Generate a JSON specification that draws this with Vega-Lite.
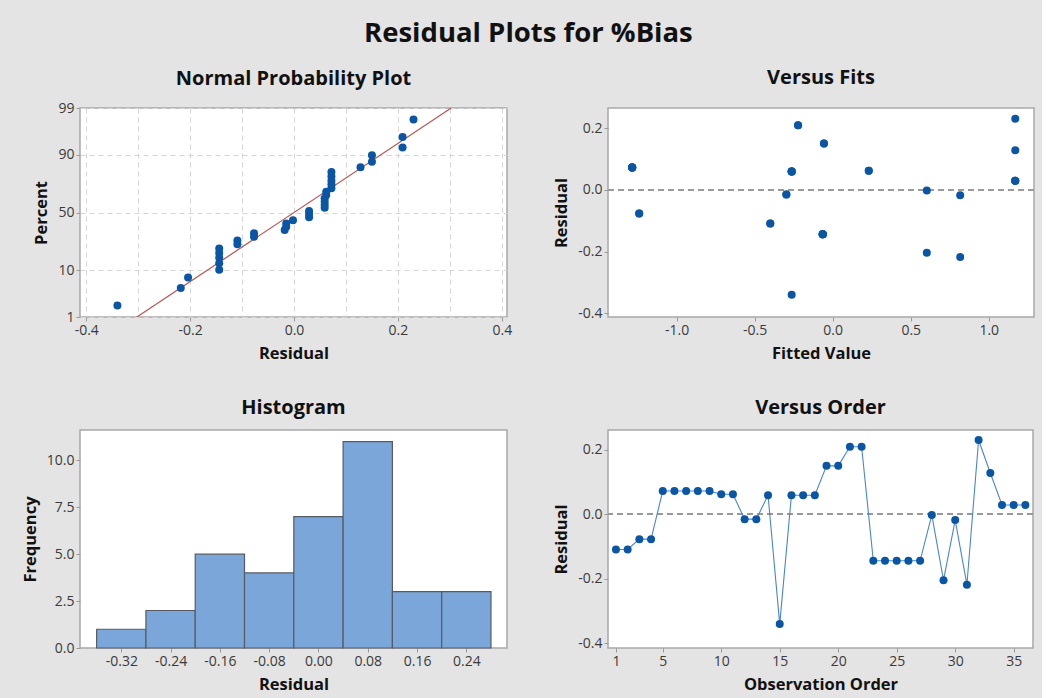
{
  "$schema": "https://vega.github.io/schema/vega-lite/v6.json",
  "background": "#e4e4e4",
  "padding": {"left": 21, "top": 19, "right": 6, "bottom": 6},
  "title": {
    "text": "Residual Plots for %Bias",
    "fontSize": 27.5,
    "fontWeight": "bold",
    "color": "#111111",
    "anchor": "middle",
    "offset": 20
  },
  "datasets": {
    "obs": [
      {"order": 1, "fit": -0.400, "resid": -0.109},
      {"order": 2, "fit": -0.400, "resid": -0.109},
      {"order": 3, "fit": -1.240, "resid": -0.077},
      {"order": 4, "fit": -1.240, "resid": -0.077},
      {"order": 5, "fit": -1.285, "resid": 0.072},
      {"order": 6, "fit": -1.285, "resid": 0.072},
      {"order": 7, "fit": -1.285, "resid": 0.072},
      {"order": 8, "fit": -1.285, "resid": 0.072},
      {"order": 9, "fit": -1.285, "resid": 0.072},
      {"order": 10, "fit": 0.231, "resid": 0.062},
      {"order": 11, "fit": 0.231, "resid": 0.062},
      {"order": 12, "fit": -0.297, "resid": -0.015},
      {"order": 13, "fit": -0.297, "resid": -0.015},
      {"order": 14, "fit": -0.263, "resid": 0.059},
      {"order": 15, "fit": -0.263, "resid": -0.340},
      {"order": 16, "fit": -0.263, "resid": 0.059},
      {"order": 17, "fit": -0.263, "resid": 0.059},
      {"order": 18, "fit": -0.263, "resid": 0.059},
      {"order": 19, "fit": -0.056, "resid": 0.150},
      {"order": 20, "fit": -0.056, "resid": 0.150},
      {"order": 21, "fit": -0.222, "resid": 0.209},
      {"order": 22, "fit": -0.222, "resid": 0.209},
      {"order": 23, "fit": -0.064, "resid": -0.144},
      {"order": 24, "fit": -0.064, "resid": -0.144},
      {"order": 25, "fit": -0.064, "resid": -0.144},
      {"order": 26, "fit": -0.064, "resid": -0.144},
      {"order": 27, "fit": -0.064, "resid": -0.144},
      {"order": 28, "fit": 0.603, "resid": -0.002},
      {"order": 29, "fit": 0.603, "resid": -0.204},
      {"order": 30, "fit": 0.817, "resid": -0.018},
      {"order": 31, "fit": 0.817, "resid": -0.218},
      {"order": 32, "fit": 1.170, "resid": 0.230},
      {"order": 33, "fit": 1.170, "resid": 0.128},
      {"order": 34, "fit": 1.170, "resid": 0.029},
      {"order": 35, "fit": 1.170, "resid": 0.029},
      {"order": 36, "fit": 1.170, "resid": 0.029}
    ],
    "npp": [
      {"resid": -0.340, "score": -2.070},
      {"resid": -0.218, "score": -1.678},
      {"resid": -0.204, "score": -1.445},
      {"resid": -0.144, "score": -1.272},
      {"resid": -0.144, "score": -1.131},
      {"resid": -0.144, "score": -1.009},
      {"resid": -0.144, "score": -0.900},
      {"resid": -0.144, "score": -0.801},
      {"resid": -0.109, "score": -0.709},
      {"resid": -0.109, "score": -0.623},
      {"resid": -0.077, "score": -0.542},
      {"resid": -0.077, "score": -0.464},
      {"resid": -0.018, "score": -0.388},
      {"resid": -0.015, "score": -0.315},
      {"resid": -0.015, "score": -0.243},
      {"resid": -0.002, "score": -0.173},
      {"resid": 0.029, "score": -0.103},
      {"resid": 0.029, "score": -0.034},
      {"resid": 0.029, "score": 0.034},
      {"resid": 0.059, "score": 0.103},
      {"resid": 0.059, "score": 0.173},
      {"resid": 0.059, "score": 0.243},
      {"resid": 0.059, "score": 0.315},
      {"resid": 0.062, "score": 0.388},
      {"resid": 0.062, "score": 0.464},
      {"resid": 0.072, "score": 0.542},
      {"resid": 0.072, "score": 0.623},
      {"resid": 0.072, "score": 0.709},
      {"resid": 0.072, "score": 0.801},
      {"resid": 0.072, "score": 0.900},
      {"resid": 0.128, "score": 1.009},
      {"resid": 0.150, "score": 1.131},
      {"resid": 0.150, "score": 1.272},
      {"resid": 0.209, "score": 1.445},
      {"resid": 0.209, "score": 1.678},
      {"resid": 0.230, "score": 2.070}
    ],
    "nppLine": [
      {"resid": -0.3025, "score": -2.3263},
      {"resid": 0.3025, "score": 2.3263}
    ],
    "hist": [
      {"lo": -0.36, "hi": -0.28, "count": 1},
      {"lo": -0.28, "hi": -0.20, "count": 2},
      {"lo": -0.20, "hi": -0.12, "count": 5},
      {"lo": -0.12, "hi": -0.04, "count": 4},
      {"lo": -0.04, "hi": 0.04, "count": 7},
      {"lo": 0.04, "hi": 0.12, "count": 11},
      {"lo": 0.12, "hi": 0.20, "count": 3},
      {"lo": 0.20, "hi": 0.28, "count": 3}
    ]
  },
  "columns": 2,
  "spacing": {"row": 34, "column": 40},
  "concat": [
    {
      "width": 427,
      "height": 209,
      "title": "Normal Probability Plot",
      "layer": [
        {
          "data": {"name": "nppLine"},
          "mark": {"type": "line", "color": "#B9534E", "strokeWidth": 1.2, "clip": true},
          "encoding": {
            "x": {"field": "resid", "type": "quantitative"},
            "y": {"field": "score", "type": "quantitative"}
          }
        },
        {
          "data": {"name": "npp"},
          "mark": {"type": "point", "filled": true, "size": 64, "opacity": 1, "color": "#0B56A4"},
          "encoding": {
            "x": {
              "field": "resid",
              "type": "quantitative",
              "title": "Residual",
              "scale": {"domain": [-0.412, 0.41], "nice": false, "zero": false},
              "axis": {
                "values": [-0.4, -0.3, -0.2, -0.1, 0, 0.1, 0.2, 0.3, 0.4],
                "grid": true,
                "gridDash": [5, 4],
                "gridColor": "#d6d6d6",
                "labelExpr": "abs(round(datum.value * 10)) % 2 == 0 ? replace(format(datum.value, '.1f'), '\u2212', '-') : ''",
                "tickOpacity": {"condition": {"test": "abs(round(datum.value * 10)) % 2 == 0", "value": 1}, "value": 0}
              }
            },
            "y": {
              "field": "score",
              "type": "quantitative",
              "title": "Percent",
              "scale": {"domain": [-2.3263, 2.3263], "nice": false, "zero": false},
              "axis": {
                "values": [-2.3263, -1.2816, 0, 1.2816, 2.3263],
                "grid": true,
                "gridDash": [5, 4],
                "gridColor": "#d6d6d6",
                "labelExpr": "datum.value < -2 ? '1' : datum.value < -1 ? '10' : datum.value < 1 ? '50' : datum.value < 2 ? '90' : '99'"
              }
            }
          }
        }
      ]
    },
    {
      "width": 426,
      "height": 209,
      "title": {"text": "Versus Fits", "offset": 20},
      "data": {"name": "obs"},
      "layer": [
        {
          "mark": {"type": "rule", "color": "#9a9a9a", "strokeDash": [6, 4], "strokeWidth": 1},
          "encoding": {"y": {"datum": 0}}
        },
        {
          "mark": {"type": "point", "filled": true, "size": 64, "opacity": 1, "color": "#0B56A4"},
          "encoding": {
            "x": {
              "field": "fit",
              "type": "quantitative",
              "title": "Fitted Value",
              "scale": {"domain": [-1.44, 1.29], "nice": false, "zero": false},
              "axis": {
                "values": [-1, -0.5, 0, 0.5, 1],
                "labelExpr": "replace(format(datum.value, '.1f'), '\u2212', '-')"
              }
            },
            "y": {
              "field": "resid",
              "type": "quantitative",
              "title": "Residual",
              "scale": {"domain": [-0.412, 0.265], "nice": false, "zero": false},
              "axis": {
                "values": [-0.4, -0.2, 0, 0.2],
                "labelExpr": "replace(format(datum.value, '.1f'), '\u2212', '-')"
              }
            }
          }
        }
      ]
    },
    {
      "width": 427,
      "height": 218,
      "title": "Histogram",
      "data": {"name": "hist"},
      "mark": {"type": "bar", "fill": "#7BA6D9", "stroke": "#555b63", "strokeWidth": 1.2, "opacity": 1},
      "encoding": {
        "x": {
          "field": "lo",
          "type": "quantitative",
          "title": "Residual",
          "scale": {"domain": [-0.387, 0.306], "nice": false, "zero": false},
          "axis": {
            "values": [-0.32, -0.24, -0.16, -0.08, 0, 0.08, 0.16, 0.24],
            "labelExpr": "replace(format(datum.value, '.2f'), '\u2212', '-')"
          }
        },
        "x2": {"field": "hi"},
        "y": {
          "field": "count",
          "type": "quantitative",
          "title": "Frequency",
          "scale": {"domain": [0, 11.62], "nice": false},
          "axis": {
            "values": [0, 2.5, 5, 7.5, 10],
            "labelExpr": "format(datum.value, '.1f')"
          }
        },
        "y2": {"datum": 0}
      }
    },
    {
      "width": 425,
      "height": 218,
      "title": "Versus Order",
      "data": {"name": "obs"},
      "layer": [
        {
          "mark": {"type": "rule", "color": "#9a9a9a", "strokeDash": [6, 4], "strokeWidth": 1},
          "encoding": {"y": {"datum": 0}}
        },
        {
          "mark": {"type": "line", "color": "#4A86CC", "strokeWidth": 1.1},
          "encoding": {
            "x": {"field": "order", "type": "quantitative"},
            "y": {"field": "resid", "type": "quantitative"}
          }
        },
        {
          "mark": {"type": "point", "filled": true, "size": 64, "opacity": 1, "color": "#0B56A4"},
          "encoding": {
            "x": {
              "field": "order",
              "type": "quantitative",
              "title": "Observation Order",
              "scale": {"domain": [0.32, 36.65], "nice": false, "zero": false},
              "axis": {"values": [1, 5, 10, 15, 20, 25, 30, 35]}
            },
            "y": {
              "field": "resid",
              "type": "quantitative",
              "title": "Residual",
              "scale": {"domain": [-0.414, 0.261], "nice": false, "zero": false},
              "axis": {
                "values": [-0.4, -0.2, 0, 0.2],
                "labelExpr": "replace(format(datum.value, '.1f'), '\u2212', '-')"
              }
            }
          }
        }
      ]
    }
  ],
  "config": {
    "font": "Open Sans",
    "view": {"fill": "#ffffff", "stroke": "#a8a8a8", "strokeWidth": 1.5},
    "title": {"fontSize": 20, "fontWeight": "bold", "color": "#111111", "offset": 12, "anchor": "middle"},
    "axis": {
      "domain": false,
      "grid": false,
      "ticks": true,
      "tickColor": "#9a9a9a",
      "tickSize": 4,
      "labelFontSize": 14,
      "labelColor": "#3a3a3a",
      "labelPadding": 2,
      "titleFontSize": 16.5,
      "titleFontWeight": "bold",
      "titleColor": "#111111",
      "titlePadding": 8
    }
  }
}
